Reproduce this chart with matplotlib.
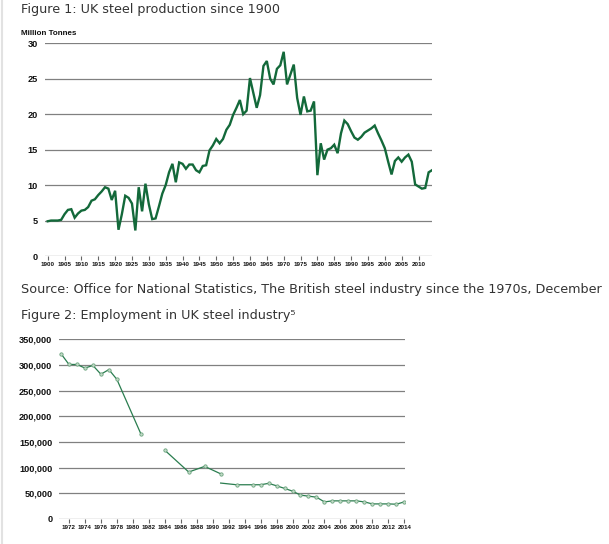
import matplotlib
matplotlib.use("Agg")
import matplotlib.pyplot as plt
from matplotlib.lines import Line2D

# Figure 1: UK steel production, million tonnes
prod_years = list(range(1900, 2015))
prod_values = [
    4.9, 5.0, 5.0, 5.0, 5.1, 5.9, 6.5, 6.6, 5.4, 6.0,   # 1900s
    6.4, 6.5, 6.9, 7.8, 8.0, 8.6, 9.1, 9.7, 9.5, 7.9,   # 1910s
    9.2, 3.7, 5.9, 8.5, 8.2, 7.4, 3.6, 9.7, 6.3, 10.2,  # 1920s
    7.3, 5.2, 5.3, 7.0, 8.8, 10.0, 11.8, 13.0, 10.4, 13.2,  # 1930s
    13.0, 12.3, 12.9, 12.9, 12.1, 11.8, 12.7, 12.8, 14.9, 15.6,  # 1940s
    16.5, 15.9, 16.5, 17.8, 18.5, 19.9, 20.9, 22.0, 20.0, 20.5,  # 1950s
    25.1, 23.0, 20.9, 22.7, 26.8, 27.5, 25.0, 24.2, 26.4, 26.9,  # 1960s
    28.8, 24.2, 25.6, 27.0, 22.3, 19.9, 22.5, 20.4, 20.5, 21.8,  # 1970s
    11.4, 15.9, 13.6, 15.0, 15.2, 15.7, 14.5, 17.3, 19.1, 18.6,  # 1980s
    17.6, 16.7, 16.4, 16.8, 17.4, 17.7, 18.0, 18.4, 17.3, 16.3,  # 1990s
    15.2, 13.3, 11.5, 13.4, 13.9, 13.3, 13.9, 14.3, 13.3, 10.1,  # 2000s
    9.8, 9.5, 9.6, 11.8, 12.1,                                   # 2010s
]
prod_ticks = list(range(1900, 2011, 5))
prod_yticks = [0, 5, 10, 15, 20, 25, 30]

# Figure 2: employment, three separate runs of data
emp_years_a = [1971, 1972, 1973, 1974, 1975, 1976, 1977, 1978, 1981]
emp_values_a = [322000, 301000, 301000, 294000, 299000, 282000, 291000, 272000, 166000]
emp_years_b = [1984, 1987, 1989, 1991]
emp_values_b = [134000, 91500, 102500, 88000]
emp_years_c = [1991, 1993, 1995, 1996, 1997, 1998, 1999, 2000, 2001, 2002, 2003,
               2004, 2005, 2006, 2007, 2008, 2009, 2010, 2011, 2012, 2013, 2014]
emp_values_c = [70000, 66700, 66700, 66700, 69400, 64700, 59600, 54300, 46500, 44500, 42500,
                33300, 35300, 35300, 35300, 35300, 33300, 29400, 29400, 29400, 28800, 33300]
emp_ticks = list(range(1972, 2015, 2))
emp_yticks = [0, 50000, 100000, 150000, 200000, 250000, 300000, 350000]

W, H = 609, 544
fig = plt.figure(figsize=(W / 100, H / 100), dpi=100)
fig.patch.set_facecolor("white")

txt_color = "#333333"
grid_color = "#808080"
tick_font = "Liberation Sans"


def px_axes(left, top, right, bottom):
    return fig.add_axes([left / W, 1 - bottom / H, (right - left) / W, (bottom - top) / H])


def style_axes(ax):
    for s in ax.spines.values():
        s.set_visible(False)
    ax.grid(axis="y", color=grid_color, linewidth=0.9)
    ax.set_axisbelow(True)
    ax.tick_params(axis="y", length=0, pad=5, labelsize=6.6, labelcolor="#111111")
    ax.tick_params(axis="x", length=3, width=0.8, color="#666666", pad=1.5,
                   labelsize=4.5, labelcolor="#111111")
    for lab in ax.get_xticklabels() + ax.get_yticklabels():
        lab.set_fontfamily(tick_font)
        lab.set_fontweight("bold")


# page border and headings
fig.add_artist(Line2D([1.5 / W, 1.5 / W], [0, 1], color="#e2e2e2", linewidth=1.5))
fig.text(21 / W, 1 - 9 / H, "Figure 1: UK steel production since 1900", fontsize=9.2,
         color=txt_color, va="center", ha="left")
fig.text(21 / W, 1 - 289.5 / H,
         "Source: Office for National Statistics, The British steel industry since the 1970s, December",
         fontsize=9.2, color=txt_color, va="center", ha="left")
fig.text(21 / W, 1 - 316 / H, "Figure 2: Employment in UK steel industry\u2075", fontsize=9.2,
         color=txt_color, va="center", ha="left")

# top chart
ax1 = px_axes(45, 43.3, 432, 256)
ax1.plot(prod_years, prod_values, color="#13693a", linewidth=1.7, solid_joinstyle="miter")
ax1.set_xlim(1899.2, 2014.0)
ax1.set_ylim(0, 30)
ax1.set_yticks(prod_yticks)
ax1.set_xticks(prod_ticks)
ax1.set_xticklabels([str(y) for y in prod_ticks])
style_axes(ax1)
fig.text(21 / W, 1 - 33.5 / H, "Million Tonnes", fontsize=5.8, fontweight="bold",
         family=tick_font, color="#111111", va="center", ha="left")

# bottom chart
ax2 = px_axes(59.3, 339.3, 405, 519)
line_kw = dict(color="#2a7d4f", linewidth=0.9, marker="o", markersize=2.4,
               markerfacecolor="#c3dac8", markeredgecolor="#6aa37d", markeredgewidth=0.6)
ax2.plot(emp_years_a, emp_values_a, **line_kw)
ax2.plot(emp_years_b, emp_values_b, **line_kw)
ax2.plot(emp_years_c, emp_values_c, markevery=list(range(1, len(emp_years_c))), **line_kw)
ax2.set_xlim(1970.79, 2014.09)
ax2.set_ylim(0, 350000)
ax2.set_yticks(emp_yticks)
ax2.set_yticklabels([f"{v:,}" for v in emp_yticks])
ax2.set_xticks(emp_ticks)
ax2.set_xticklabels([str(y) for y in emp_ticks])
style_axes(ax2)

fig.savefig("out.png", dpi=100, facecolor="white")
